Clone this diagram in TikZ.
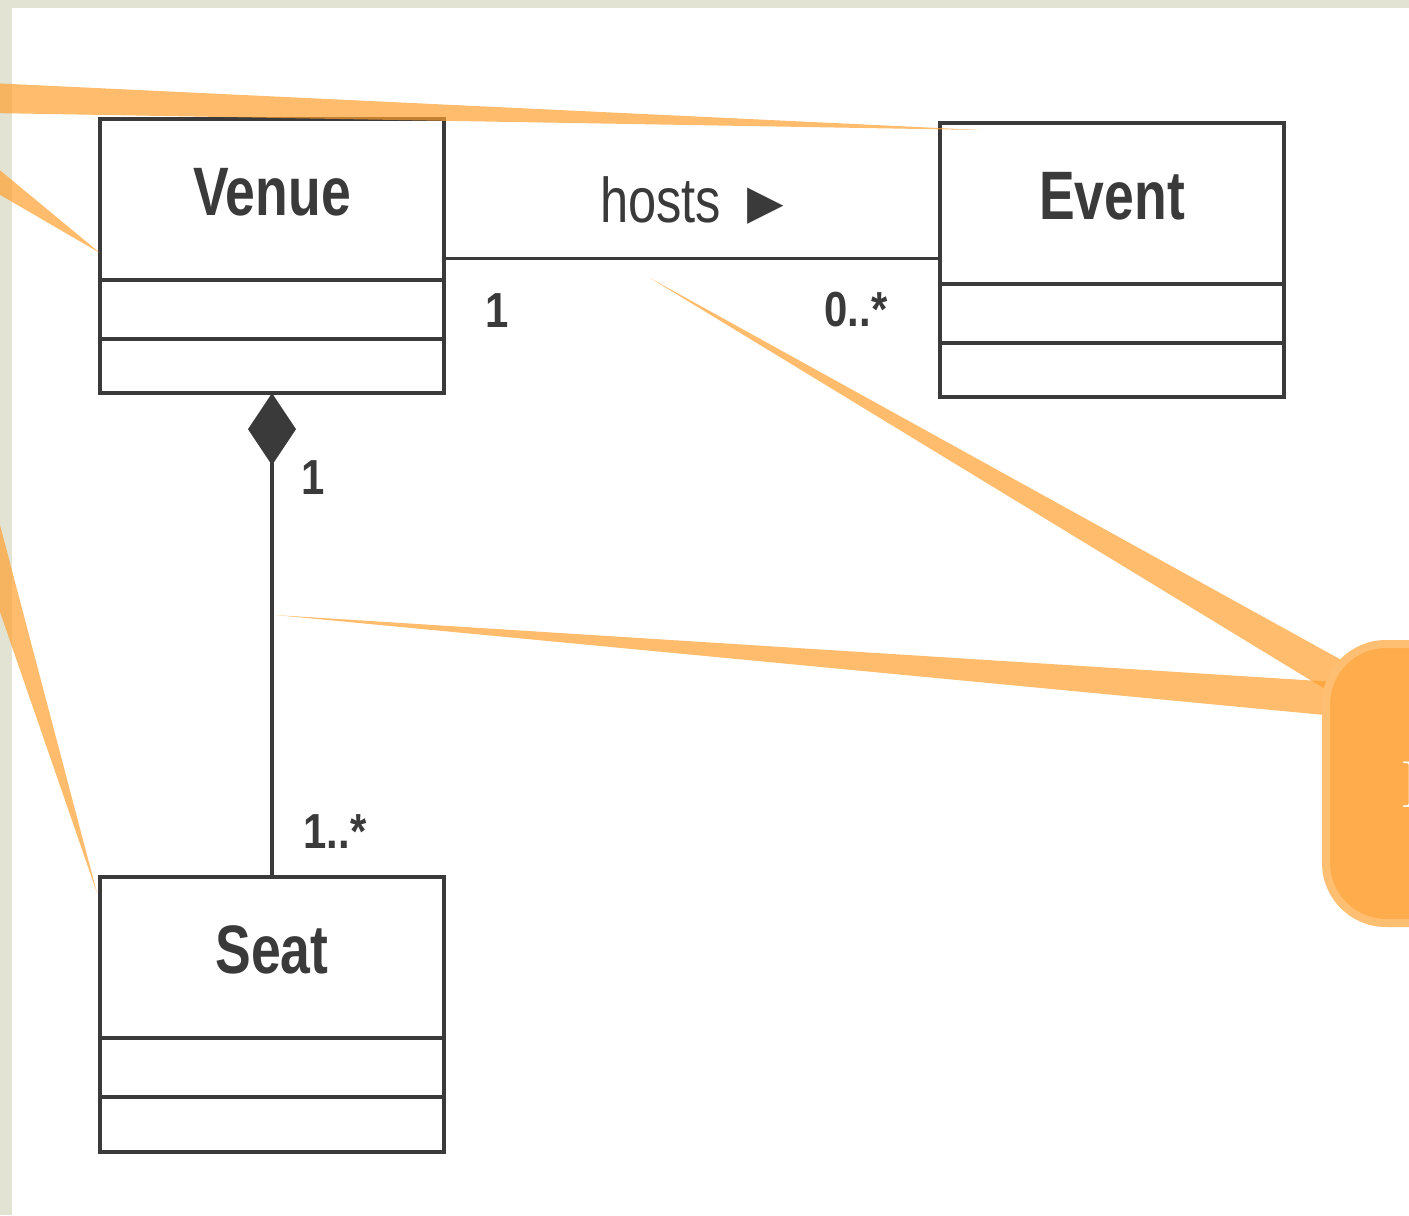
\documentclass[tikz,border=0pt]{standalone}
\usepackage{fontspec}
\usepackage{graphicx}
\newfontfamily\umlfont{Liberation Sans}
\newfontfamily\symfont{DejaVu Sans}
\usetikzlibrary{positioning,arrows.meta}
\definecolor{umlgray}{HTML}{3A3A3A}
\definecolor{calloutcol}{HTML}{FFA030}
\definecolor{calloutfill}{HTML}{FFAC4C}
\definecolor{calloutrim}{HTML}{FFBF72}
\definecolor{paper}{HTML}{E2E3D3}
\newcommand{\narrow}[1]{\scalebox{0.78}[1]{#1}}
\begin{document}
\begin{tikzpicture}[x=0.01cm, y=-0.01cm,
  class name/.style={draw=umlgray, line width=1pt, minimum width=3.44cm, minimum height=1.61cm, inner sep=0pt, outer sep=0pt, anchor=north, text=umlgray, text height=5mm, text depth=1.9mm, font=\umlfont\bfseries\fontsize{19.5}{20}\selectfont},
  class part/.style={draw=umlgray, line width=1pt, minimum width=3.44cm, minimum height=#1, inner sep=0pt, outer sep=0pt},
  mult/.style={text=umlgray, inner sep=0pt, font=\umlfont\bfseries\fontsize{14}{16}\selectfont},
  assoc/.style={draw=umlgray, line width=1pt},
  comp/.style={draw=umlgray, line width=1pt, -{Diamond[length=7.2mm,width=4.8mm]}},
  callout/.style={fill=calloutcol, fill opacity=0.7}]
\clip (0,0) rectangle (1409,1215);
% page
\fill[paper] (0,0) rectangle (1409,1215);
\fill[white] (12,8) rectangle (1409,1215);
% classes
\node[class name] (venue) at (272,119) {\narrow{Venue}};
\node[class part=0.59cm, below=0pt of venue] (venue attr) {};
\node[class part=0.54cm, below=0pt of venue attr] (venue ops) {};
\node[class name] (event) at (1112,123) {\narrow{Event}};
\node[class part=0.59cm, below=0pt of event] (event attr) {};
\node[class part=0.54cm, below=0pt of event attr] (event ops) {};
\node[class name] (seat) at (272,877) {\narrow{Seat}};
\node[class part=0.59cm, below=0pt of seat] (seat attr) {};
\node[class part=0.55cm, below=0pt of seat attr] (seat ops) {};
% associations
\draw[assoc] ([yshift=6.2pt]venue.south east) -- ([yshift=6.2pt]venue.south east -| event.west)
  node[midway, yshift=5.8mm, text=umlgray, font=\umlfont\fontsize{18}{20}\selectfont] (hosts) {\scalebox{0.8}[1]{hosts}\hspace{2.6mm}\raisebox{1.2pt}{\symfont\fontsize{13.5}{14}\selectfont ▶}};
\draw[comp] (seat.north) -- (venue ops.south);
\node[mult] (m venue) at (497,311) {\scalebox{0.85}[1]{1}};
\node[mult] (m event) at (856,310) {\scalebox{0.85}[1]{0..*}};
\node[mult] (m whole) at (313,478) {\scalebox{0.85}[1]{1}};
\node[mult] (m part) at (335,832) {\scalebox{0.85}[1]{1..*}};
% callouts
\fill[callout] (-10,83) -- (980,130) -- (-10,113) -- cycle;
\fill[callout] (-10,162) -- (100,253) -- (-10,189) -- cycle;
\fill[callout] (-30,525) -- (97,893) -- (0,525) -- cycle;
\fill[callout] (650,278) -- (1345,662) -- (1330,692) -- cycle;
\fill[callout] (275,615) -- (1335,682) -- (1335,716) -- cycle;
\draw[calloutrim, fill=calloutfill, line width=0.08cm, rounded corners=0.6cm] (1326,644) rectangle (1700,923);
\node[anchor=base west, inner sep=0pt, text=white, font=\fontsize{19}{22}\selectfont] (note) at (1400,807) {I};
\end{tikzpicture}
\end{document}
